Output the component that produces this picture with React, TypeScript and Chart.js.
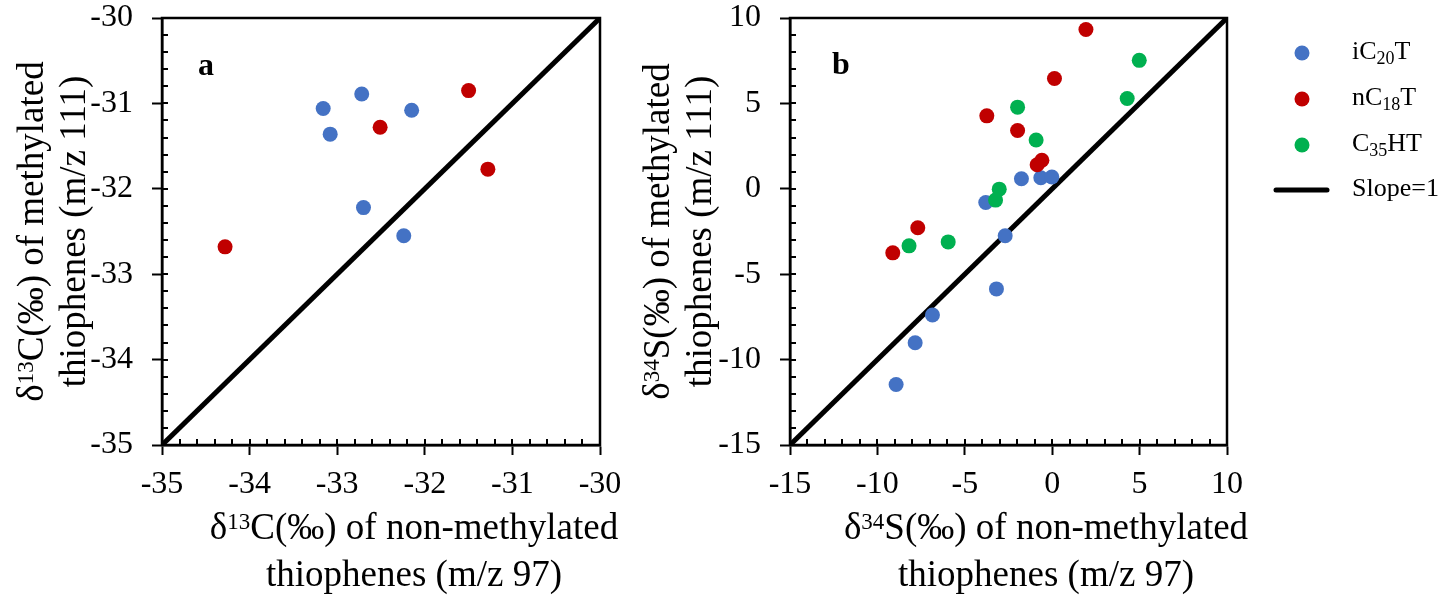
import React, { useEffect, useRef } from 'react';
import { Chart, registerables } from 'chart.js';

Chart.register(...registerables);

const FONT = '"Liberation Serif", "Times New Roman", serif';

// ---------- Panel a : δ13C ----------
const aTicks = [-35, -34, -33, -32, -31, -30];
const aIC20T_x = [-33.16, -32.72, -32.15, -33.08, -32.70, -32.24];
const aIC20T_y = [-31.06, -30.89, -31.08, -31.36, -32.22, -32.55];
const aNC18T_x = [-31.50, -32.51, -31.28, -34.28];
const aNC18T_y = [-30.85, -31.28, -31.77, -32.68];
const aSlope = [-35, -30];

// ---------- Panel b : δ34S ----------
const bTicks = [-15, -10, -5, 0, 5, 10];
const bIC20T_x = [-8.93, -7.84, -6.85, -3.19, -2.69, -3.80, -1.76, -0.65, -0.02];
const bIC20T_y = [-11.46, -9.01, -7.39, -5.86, -2.75, -0.80, 0.59, 0.65, 0.69];
const bNC18T_x = [1.93, 0.13, -3.74, -1.98, -0.59, -0.86, -7.69, -9.12];
const bNC18T_y = [9.33, 6.46, 4.27, 3.41, 1.67, 1.41, -2.28, -3.75];
const bC35HT_x = [4.98, 4.29, -1.98, -0.92, -3.03, -3.24, -5.95, -8.19];
const bC35HT_y = [7.52, 5.29, 4.78, 2.86, -0.02, -0.66, -3.11, -3.34];
const bSlope = [-15, 10];

const COLOR_IC20T = '#4472C4';
const COLOR_NC18T = '#C00000';
const COLOR_C35HT = '#00B050';

type Seg = { t: string; s?: 'sup' | 'sub' };

const legendLabels: Seg[][] = [
  [{ t: 'iC' }, { t: '20', s: 'sub' }, { t: 'T' }],
  [{ t: 'nC' }, { t: '18', s: 'sub' }, { t: 'T' }],
  [{ t: 'C' }, { t: '35', s: 'sub' }, { t: 'HT' }],
  [{ t: 'Slope=1' }],
];

const aXTitle: Seg[][] = [
  [{ t: 'δ' }, { t: '13', s: 'sup' }, { t: 'C(‰) of non-methylated' }],
  [{ t: 'thiophenes (m/z 97)' }],
];
const aYTitle: Seg[][] = [
  [{ t: 'δ' }, { t: '13', s: 'sup' }, { t: 'C(‰) of methylated' }],
  [{ t: 'thiophenes (m/z 111)' }],
];
const bXTitle: Seg[][] = [
  [{ t: 'δ' }, { t: '34', s: 'sup' }, { t: 'S(‰) of non-methylated' }],
  [{ t: 'thiophenes (m/z 97)' }],
];
const bYTitle: Seg[][] = [
  [{ t: 'δ' }, { t: '34', s: 'sup' }, { t: 'S(‰) of methylated' }],
  [{ t: 'thiophenes (m/z 111)' }],
];

function zip(xs: number[], ys: number[]) {
  return xs.map((x, i) => ({ x, y: ys[i] }));
}

function drawRich(
  ctx: CanvasRenderingContext2D,
  segs: Seg[],
  x: number,
  y: number,
  size: number,
  align: 'center' | 'left',
  smallSize: number,
  shift: number,
) {
  const mainF = `${size}px ${FONT}`;
  const smallF = `${smallSize}px ${FONT}`;
  const widths: number[] = [];
  let total = 0;
  for (const s of segs) {
    ctx.font = s.s ? smallF : mainF;
    const w = ctx.measureText(s.t).width;
    widths.push(w);
    total += w;
  }
  let cx = align === 'center' ? x - total / 2 : x;
  ctx.textAlign = 'left';
  ctx.textBaseline = 'alphabetic';
  segs.forEach((s, i) => {
    ctx.font = s.s ? smallF : mainF;
    const dy = s.s === 'sup' ? -shift : s.s === 'sub' ? shift : 0;
    ctx.fillText(s.t, cx, y + dy);
    cx += widths[i];
  });
}

interface PanelCfg {
  minorStep: number;
  xTitle: Seg[][];
  yTitle: Seg[][];
  xTitleCenter: number;
  xTitleBaselines: number[];
  yTitleBaselines: number[];
  letter: string;
  letterPos: [number, number];
  legend?: boolean;
}

const TITLE_SIZE = 37;
const SUP_SIZE = 23;
const SUP_SHIFT = 10;

function decorPlugin(cfg: PanelCfg) {
  return {
    id: 'decor',
    afterDraw(chart: any) {
      const ctx: CanvasRenderingContext2D = chart.ctx;
      const { left, right, top, bottom } = chart.chartArea;
      const xs = chart.scales.x;
      const ys = chart.scales.y;
      ctx.save();
      // frame
      ctx.strokeStyle = '#000';
      ctx.lineWidth = 2.5;
      ctx.strokeRect(left, top, right - left, bottom - top);
      // inner (minor) ticks
      ctx.lineWidth = 2;
      ctx.beginPath();
      const nx = Math.round((xs.max - xs.min) / cfg.minorStep);
      for (let i = 0; i <= nx; i++) {
        const v = xs.min + i * cfg.minorStep;
        const px = Math.round(xs.getPixelForValue(v));
        ctx.moveTo(px, bottom);
        ctx.lineTo(px, bottom - 6);
      }
      const ny = Math.round((ys.max - ys.min) / cfg.minorStep);
      for (let i = 0; i <= ny; i++) {
        const v = ys.min + i * cfg.minorStep;
        const py = Math.round(ys.getPixelForValue(v));
        ctx.moveTo(left, py);
        ctx.lineTo(left + 6, py);
      }
      ctx.stroke();

      ctx.fillStyle = '#000';
      // x title
      cfg.xTitle.forEach((line, i) => {
        drawRich(ctx, line, cfg.xTitleCenter, cfg.xTitleBaselines[i], TITLE_SIZE, 'center', SUP_SIZE, SUP_SHIFT);
      });
      // y title
      const cy = (top + bottom) / 2;
      cfg.yTitle.forEach((line, i) => {
        ctx.save();
        ctx.translate(cfg.yTitleBaselines[i], cy);
        ctx.rotate(-Math.PI / 2);
        drawRich(ctx, line, 0, 0, TITLE_SIZE, 'center', SUP_SIZE, SUP_SHIFT);
        ctx.restore();
      });
      // panel letter
      ctx.font = `bold 32px ${FONT}`;
      ctx.textAlign = 'left';
      ctx.textBaseline = 'alphabetic';
      ctx.fillText(cfg.letter, cfg.letterPos[0], cfg.letterPos[1]);

      // legend
      if (cfg.legend) {
        const mx = 682;
        const tx = 732;
        const ysL = [53, 99, 145, 190];
        const cols = [COLOR_IC20T, COLOR_NC18T, COLOR_C35HT];
        for (let i = 0; i < 3; i++) {
          ctx.beginPath();
          ctx.fillStyle = cols[i];
          ctx.arc(mx, ysL[i], 7.5, 0, Math.PI * 2);
          ctx.fill();
        }
        ctx.beginPath();
        ctx.strokeStyle = '#000';
        ctx.lineWidth = 5;
        ctx.lineCap = 'round';
        ctx.moveTo(656, ysL[3]);
        ctx.lineTo(707, ysL[3]);
        ctx.stroke();
        ctx.fillStyle = '#000';
        legendLabels.forEach((segs, i) => {
          drawRich(ctx, segs, tx, ysL[i] + 6, 26, 'left', 18, 5);
        });
      }
      ctx.restore();
    },
  };
}

function axisOpts(ticks: number[], fitKey: 'width' | 'height', fitVal: number, padding: number) {
  return {
    type: 'linear' as const,
    min: ticks[0],
    max: ticks[ticks.length - 1],
    afterBuildTicks: (s: any) => {
      s.ticks = ticks.map((v) => ({ value: v }));
    },
    afterFit: (s: any) => {
      s[fitKey] = fitVal;
      s.paddingTop = 0;
      s.paddingBottom = 0;
      s.paddingLeft = 0;
      s.paddingRight = 0;
    },
    ticks: {
      color: '#000',
      font: { family: FONT, size: 32 },
      padding,
      autoSkip: false,
      maxRotation: 0,
      callback: (v: any) => String(v),
    },
    grid: {
      drawOnChartArea: false,
      drawTicks: true,
      tickLength: 10,
      tickWidth: 2,
      tickColor: '#000',
    },
    border: { display: true, color: '#000', width: 2.5 },
    title: { display: false },
  };
}

function makeConfig(
  datasets: any[],
  ticks: number[],
  yWidth: number,
  padding: any,
  plugin: any,
) {
  return {
    type: 'scatter' as const,
    data: { datasets },
    options: {
      animation: false as const,
      responsive: false,
      maintainAspectRatio: false,
      devicePixelRatio: 1,
      layout: { padding },
      plugins: { legend: { display: false }, tooltip: { enabled: false } },
      events: [],
      scales: {
        x: axisOpts(ticks, 'height', 150, 10),
        y: axisOpts(ticks, 'width', yWidth, 19),
      },
    },
    plugins: [plugin],
  };
}

function pointSet(label: string, data: any[], color: string, order: number) {
  return {
    type: 'scatter',
    label,
    data,
    backgroundColor: color,
    borderWidth: 0,
    pointRadius: 7.5,
    pointHoverRadius: 7.5,
    showLine: false,
    order,
  };
}

function slopeSet(vals: number[]) {
  return {
    type: 'line',
    label: 'Slope=1',
    data: vals.map((v) => ({ x: v, y: v })),
    borderColor: '#000',
    borderWidth: 5,
    pointRadius: 0,
    showLine: true,
    fill: false,
    order: 10,
  };
}

export default function App() {
  const refA = useRef<HTMLCanvasElement>(null);
  const refB = useRef<HTMLCanvasElement>(null);

  useEffect(() => {
    const chartA = new Chart(
      refA.current as HTMLCanvasElement,
      makeConfig(
        [
          pointSet('iC20T', zip(aIC20T_x, aIC20T_y), COLOR_IC20T, 2),
          pointSet('nC18T', zip(aNC18T_x, aNC18T_y), COLOR_NC18T, 1),
          slopeSet(aSlope),
        ],
        aTicks,
        162,
        { left: 0, top: 18, right: 20, bottom: 0 },
        decorPlugin({
          minorStep: 0.2,
          xTitle: aXTitle,
          yTitle: aYTitle,
          xTitleCenter: 414,
          xTitleBaselines: [539, 586],
          yTitleBaselines: [43, 85],
          letter: 'a',
          letterPos: [198, 75],
        }),
      ) as any,
    );
    const chartB = new Chart(
      refB.current as HTMLCanvasElement,
      makeConfig(
        [
          pointSet('iC20T', zip(bIC20T_x, bIC20T_y), COLOR_IC20T, 2),
          pointSet('nC18T', zip(bNC18T_x, bNC18T_y), COLOR_NC18T, 1),
          pointSet('C35HT', zip(bC35HT_x, bC35HT_y), COLOR_C35HT, 0),
          slopeSet(bSlope),
        ],
        bTicks,
        170,
        { left: 0, top: 18, right: 221, bottom: 0 },
        decorPlugin({
          minorStep: 1,
          xTitle: bXTitle,
          yTitle: bYTitle,
          xTitleCenter: 426,
          xTitleBaselines: [539, 586],
          yTitleBaselines: [49, 91],
          letter: 'b',
          letterPos: [212, 74],
          legend: true,
        }),
      ) as any,
    );
    return () => {
      chartA.destroy();
      chartB.destroy();
    };
  }, []);

  return (
    <div style={{ position: 'fixed', left: 0, top: 0, width: 1448, height: 595, background: '#fff' }}>
      <canvas
        ref={refA}
        width={620}
        height={595}
        style={{ position: 'absolute', left: 0, top: 0, width: 620, height: 595 }}
      />
      <canvas
        ref={refB}
        width={828}
        height={595}
        style={{ position: 'absolute', left: 620, top: 0, width: 828, height: 595 }}
      />
    </div>
  );
}
